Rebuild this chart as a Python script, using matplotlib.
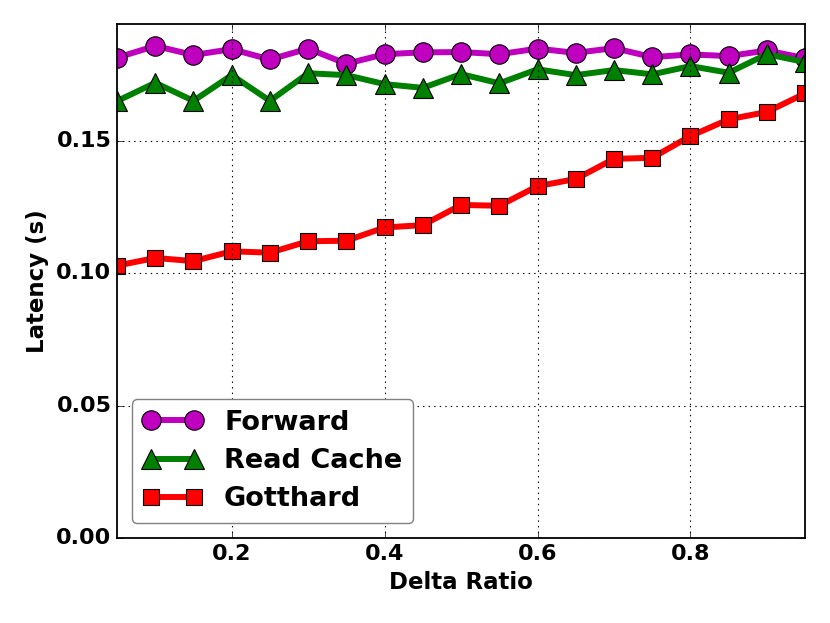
import matplotlib
matplotlib.use("Agg")
import matplotlib.pyplot as plt

plt.style.use("classic")

delta_ratio = [0.05, 0.10, 0.15, 0.20, 0.25, 0.30, 0.35, 0.40, 0.45, 0.50,
               0.55, 0.60, 0.65, 0.70, 0.75, 0.80, 0.85, 0.90, 0.95]

forward = [0.1813, 0.1857, 0.1823, 0.1845, 0.1806, 0.1847, 0.1790, 0.1826, 0.1833, 0.1834,
           0.1826, 0.1847, 0.1831, 0.1849, 0.1815, 0.1825, 0.1819, 0.1840, 0.1811]

read_cache = [0.1649, 0.1718, 0.1650, 0.1747, 0.1650, 0.1754, 0.1747, 0.1713, 0.1699, 0.1751,
              0.1716, 0.1769, 0.1747, 0.1766, 0.1750, 0.1781, 0.1756, 0.1826, 0.1796]

gotthard = [0.1028, 0.1057, 0.1045, 0.1082, 0.1077, 0.1120, 0.1122, 0.1172, 0.1181, 0.1257,
            0.1254, 0.1328, 0.1355, 0.1431, 0.1435, 0.1517, 0.1580, 0.1608, 0.1678]

fig = plt.figure(figsize=(8.3, 6.23), dpi=100, facecolor="white")
ax = fig.add_axes([0.141, 0.1364, 0.829, 0.8251])

ax.plot(delta_ratio, forward, color="m", marker="o", markersize=14, linewidth=4.3,
        markeredgecolor="black", markeredgewidth=0.8, label="Forward")
ax.plot(delta_ratio, read_cache, color="green", marker="^", markersize=15, linewidth=4.3,
        markeredgecolor="black", markeredgewidth=0.8, label="Read Cache")
ax.plot(delta_ratio, gotthard, color="red", marker="s", markersize=12, linewidth=4.3,
        markeredgecolor="black", markeredgewidth=0.8, label="Gotthard")

ax.set_xlim(0.05, 0.95)
ax.set_ylim(0, 0.194)
ax.set_xticks([0.2, 0.4, 0.6, 0.8])
ax.set_yticks([0.0, 0.05, 0.10, 0.15])
ax.set_yticklabels(["0.00", "0.05", "0.10", "0.15"])
ax.grid(True, linestyle=":", color="black", linewidth=0.8)

for lab in ax.get_xticklabels() + ax.get_yticklabels():
    lab.set_fontsize(16)
    lab.set_fontweight("bold")

ax.set_xlabel("Delta Ratio", fontsize=16.5, fontweight="bold")
ax.set_ylabel("Latency (s)", fontsize=16.5, fontweight="bold")

for sp in ax.spines.values():
    sp.set_linewidth(1.3)

leg = ax.legend(loc="lower left", numpoints=2, fancybox=True,
                prop={"size": 19.5, "weight": "bold"}, handlelength=2.2,
                borderaxespad=0.55, labelspacing=0.45)
leg.get_frame().set_edgecolor("gray")

fig.savefig("out.png", dpi=100, facecolor="white")
